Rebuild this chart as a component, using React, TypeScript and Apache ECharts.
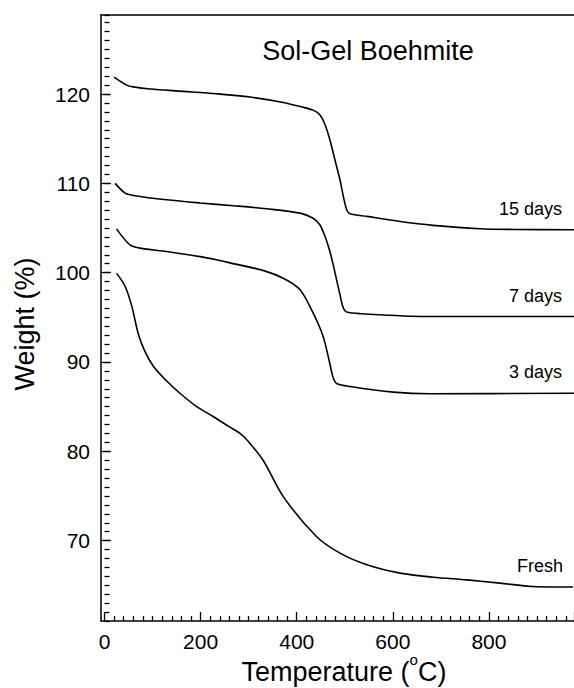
import React, { useEffect, useRef } from "react";
import * as echarts from "echarts";

// Axis ticks
const xMajorTicks = [0, 200, 400, 600, 800];
const yMajorTicks = [70, 80, 90, 100, 110, 120];

// Series: temperature (°C) and weight (%)
const days15T = [20, 46, 60, 95, 164, 233, 303, 372, 407, 434, 448, 459, 469, 476, 483, 490, 497, 504, 511, 546, 615, 684, 781, 851, 977];
const days15W = [121.9, 121.0, 120.8, 120.56, 120.3, 120.03, 119.66, 119.06, 118.6, 118.2, 117.68, 116.56, 114.88, 113.39, 111.89, 110.4, 108.53, 107.04, 106.6, 106.3, 105.73, 105.3, 104.92, 104.84, 104.8];

const days7T = [22, 43, 60, 129, 199, 268, 337, 407, 434, 448, 459, 469, 476, 483, 490, 497, 504, 535, 670, 977];
const days7W = [110.0, 108.9, 108.65, 108.16, 107.8, 107.5, 107.16, 106.67, 106.1, 105.36, 104.05, 102.37, 100.88, 99.2, 97.53, 96.04, 95.59, 95.4, 95.1, 95.1];

const days3T = [25, 53, 74, 129, 199, 233, 261, 333, 375, 407, 434, 455, 469, 476, 483, 511, 601, 677, 977];
const days3W = [104.9, 103.1, 102.75, 102.37, 101.8, 101.44, 101.1, 100.2, 99.3, 98.08, 95.5, 92.86, 89.8, 88.2, 87.6, 87.26, 86.63, 86.44, 86.5];

const freshT = [25, 43, 57, 70, 84, 102, 129, 157, 192, 226, 261, 282, 296, 330, 372, 441, 490, 546, 615, 684, 754, 823, 892, 975];
const freshW = [99.95, 98.45, 96.2, 93.2, 91.18, 89.5, 87.9, 86.5, 85.0, 83.9, 82.7, 82.0, 81.3, 79.0, 74.93, 70.46, 68.6, 67.3, 66.36, 65.9, 65.6, 65.24, 64.86, 64.8];

const seriesNames = ["15 days", "7 days", "3 days", "Fresh"];

const X_MIN = -7.3; // left frame edge
const X_MAX = 977;
const Y_MIN = 61;
const Y_MAX = 128.85;

const FONT = "'Liberation Sans', Arial, Helvetica, sans-serif";

function zip(t: number[], w: number[]) {
  return t.map((v, i) => [v, w[i]]);
}

export default function App() {
  const ref = useRef<HTMLDivElement>(null);

  useEffect(() => {
    document.body.style.margin = "0";
    if (!ref.current) return;
    const chart = echarts.init(ref.current, undefined, { renderer: "svg" });

    const W = 574;
    const H = 688;
    const top = 15;
    const bottom = 67;
    const frameLeft = 101;
    const plotW = W - frameLeft;
    const pxPerX = plotW / (X_MAX - X_MIN);
    const dataLeft = frameLeft + (0 - X_MIN) * pxPerX;
    const plotH = H - top - bottom;
    const pxPerY = plotH / (Y_MAX - Y_MIN);
    const majTop = top + (Y_MAX - yMajorTicks[yMajorTicks.length - 1]) * pxPerY;
    const majH = (yMajorTicks[yMajorTicks.length - 1] - yMajorTicks[0]) * pxPerY;

    const black = "#000";
    const sets = [
      zip(days15T, days15W),
      zip(days7T, days7W),
      zip(days3T, days3W),
      zip(freshT, freshW),
    ];

    chart.setOption({
      animation: false,
      grid: [
        { left: dataLeft, right: 0, top, bottom },
        { left: frameLeft, right: 0, top, bottom },
        { left: frameLeft, right: 0, top: majTop, height: majH },
      ],
      xAxis: [
        {
          gridIndex: 0,
          type: "value",
          min: 0,
          max: X_MAX,
          interval: 200,
          position: "bottom",
          axisLine: { show: false },
          axisTick: { show: true, inside: true, length: 9, lineStyle: { color: black, width: 1.3 } },
          minorTick: { show: true, splitNumber: 10, length: 5, lineStyle: { color: black, width: 1.3 } },
          axisLabel: {
            show: true,
            color: black,
            fontSize: 21,
            fontFamily: FONT,
            margin: 10,
            showMaxLabel: false,
            formatter: (v: number) => (xMajorTicks.indexOf(v) >= 0 ? String(v) : ""),
          },
          splitLine: { show: false },
        },
        {
          gridIndex: 1,
          type: "value",
          min: 0,
          max: 1,
          position: "bottom",
          axisLine: { show: true, lineStyle: { color: black, width: 1.5 } },
          axisTick: { show: false },
          axisLabel: { show: false },
          splitLine: { show: false },
        },
        {
          gridIndex: 1,
          type: "value",
          min: 0,
          max: 1,
          position: "top",
          axisLine: { show: true, lineStyle: { color: black, width: 1.5 } },
          axisTick: { show: false },
          axisLabel: { show: false },
          splitLine: { show: false },
        },
        {
          gridIndex: 2,
          type: "value",
          min: 0,
          max: 1,
          show: false,
        },
      ],
      yAxis: [
        {
          gridIndex: 0,
          type: "value",
          min: Y_MIN,
          max: Y_MAX,
          interval: 1,
          position: "left",
          offset: dataLeft - frameLeft,
          axisLine: { show: false },
          axisTick: { show: true, inside: true, length: 5, lineStyle: { color: black, width: 1.3 } },
          axisLabel: { show: false },
          splitLine: { show: false },
        },
        {
          gridIndex: 1,
          type: "value",
          min: 0,
          max: 1,
          position: "left",
          axisLine: { show: true, lineStyle: { color: black, width: 1.5 } },
          axisTick: { show: false },
          axisLabel: { show: false },
          splitLine: { show: false },
        },
        {
          gridIndex: 2,
          type: "value",
          min: yMajorTicks[0],
          max: yMajorTicks[yMajorTicks.length - 1],
          interval: 10,
          position: "left",
          axisLine: { show: false },
          axisTick: { show: true, inside: true, length: 10, lineStyle: { color: black, width: 1.3 } },
          axisLabel: { show: true, color: black, fontSize: 21, fontFamily: FONT, margin: 11 },
          splitLine: { show: false },
        },
      ],
      series: sets.map((d, i) => ({
        name: seriesNames[i],
        type: "line",
        xAxisIndex: 0,
        yAxisIndex: 0,
        data: d,
        showSymbol: false,
        smooth: 0.3,
        lineStyle: { color: black, width: 1.6 },
        silent: true,
      })),
      graphic: [
        {
          type: "text",
          x: 368,
          y: 51,
          style: { text: "Sol-Gel Boehmite", fontSize: 27, fontFamily: FONT, fill: black, align: "center", verticalAlign: "middle" },
        },
        {
          type: "text",
          x: 562,
          y: 209,
          style: { text: seriesNames[0], fontSize: 18, fontFamily: FONT, fill: black, align: "right", verticalAlign: "middle" },
        },
        {
          type: "text",
          x: 562,
          y: 296,
          style: { text: seriesNames[1], fontSize: 18, fontFamily: FONT, fill: black, align: "right", verticalAlign: "middle" },
        },
        {
          type: "text",
          x: 562,
          y: 372,
          style: { text: seriesNames[2], fontSize: 18, fontFamily: FONT, fill: black, align: "right", verticalAlign: "middle" },
        },
        {
          type: "text",
          x: 563,
          y: 566,
          style: { text: seriesNames[3], fontSize: 18, fontFamily: FONT, fill: black, align: "right", verticalAlign: "middle" },
        },
        {
          type: "text",
          x: 25,
          y: 324,
          rotation: Math.PI / 2,
          style: { text: "Weight (%)", fontSize: 27, fontFamily: FONT, fill: black, align: "center", verticalAlign: "middle" },
        },
        {
          type: "text",
          x: 344,
          y: 672,
          style: {
            text: "{a|Temperature (}{s|o}{a|C)}",
            fontFamily: FONT,
            fill: black,
            align: "center",
            verticalAlign: "middle",
            rich: {
              a: { fontSize: 27, fontFamily: FONT, fill: black },
              s: { fontSize: 15, fontFamily: FONT, fill: black, padding: [0, 0, 25, 0] },
            },
          },
        },
      ],
    });

    return () => chart.dispose();
  }, []);

  return <div ref={ref} style={{ width: 574, height: 688 }} />;
}
